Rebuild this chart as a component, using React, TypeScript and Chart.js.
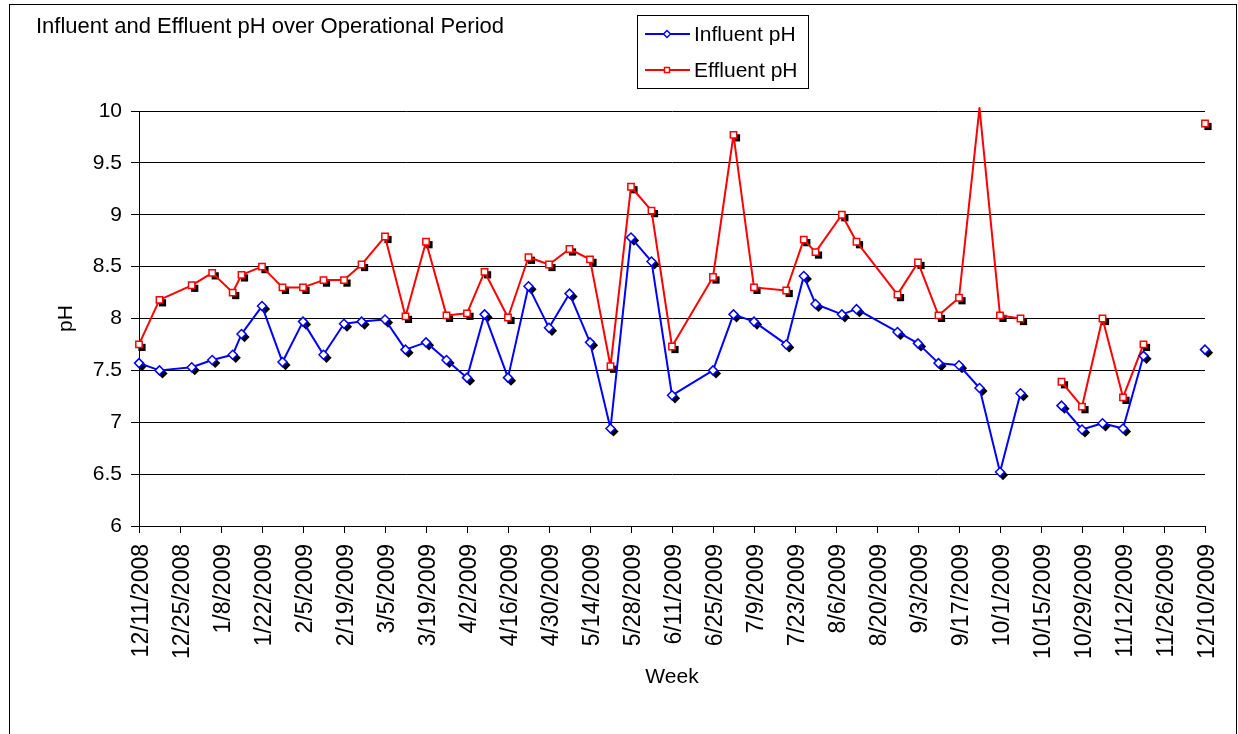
import React, { useEffect, useRef } from 'react';
import { Chart, registerables } from 'chart.js';

Chart.register(...registerables);

const chartTitle = 'Influent and Effluent pH over Operational Period';
const xAxisTitle = 'Week';
const yAxisTitle = 'pH';
const seriesNames = ['Influent pH', 'Effluent pH'];
const seriesColors = ['#0000FF', '#FF0000'];
const seriesMarkers = ['rectRot', 'rect'];

const axisStartDate = '12/11/2008';
const tickLabels = [
  '12/11/2008', '12/25/2008', '1/8/2009', '1/22/2009', '2/5/2009', '2/19/2009', '3/5/2009',
  '3/19/2009', '4/2/2009', '4/16/2009', '4/30/2009', '5/14/2009', '5/28/2009', '6/11/2009',
  '6/25/2009', '7/9/2009', '7/23/2009', '8/6/2009', '8/20/2009', '9/3/2009', '9/17/2009',
  '10/1/2009', '10/15/2009', '10/29/2009', '11/12/2009', '11/26/2009', '12/10/2009',
];

const sampleDates = [
  '12/11/2008', '12/18/2008', '12/29/2008', '1/5/2009', '1/12/2009', '1/15/2009', '1/22/2009',
  '1/29/2009', '2/5/2009', '2/12/2009', '2/19/2009', '2/25/2009', '3/5/2009', '3/12/2009',
  '3/19/2009', '3/26/2009', '4/2/2009', '4/8/2009', '4/16/2009', '4/23/2009', '4/30/2009',
  '5/7/2009', '5/14/2009', '5/21/2009', '5/28/2009', '6/4/2009', '6/11/2009', '6/25/2009',
  '7/2/2009', '7/9/2009', '7/20/2009', '7/26/2009', '7/30/2009', '8/8/2009', '8/13/2009',
  '8/27/2009', '9/3/2009', '9/10/2009', '9/17/2009', '9/24/2009', '10/1/2009', '10/8/2009',
  '10/15/2009', '10/22/2009', '10/29/2009', '11/5/2009', '11/12/2009', '11/19/2009',
  '11/26/2009', '12/3/2009', '12/10/2009',
];

const influentPH = [
  7.57, 7.50, 7.53, 7.60, 7.65, 7.85, 8.12,
  7.58, 7.97, 7.65, 7.95, 7.97, 7.99, 7.70,
  7.77, 7.60, 7.43, 8.04, 7.43, 8.31, 7.91,
  8.24, 7.77, 6.94, 8.78, 8.55, 7.26, 7.50,
  8.04, 7.97, 7.75, 8.41, 8.14, 8.04, 8.09,
  7.87, 7.76, 7.57, 7.55, 7.33, 6.52, 7.28,
  null, 7.16, 6.93, 6.99, 6.94, 7.64,
  null, null, 7.70,
];

const effluentPH = [
  7.75, 8.18, 8.32, 8.44, 8.25, 8.42, 8.50,
  8.30, 8.30, 8.37, 8.37, 8.52, 8.79, 8.02,
  8.74, 8.03, 8.05, 8.45, 8.01, 8.59, 8.52,
  8.67, 8.57, 7.54, 9.27, 9.04, 7.73, 8.40,
  9.77, 8.30, 8.27, 8.76, 8.64, 9.00, 8.74,
  8.23, 8.54, 8.03, 8.20, 10.03, 8.03, 8.00,
  null, 7.39, 7.15, 8.00, 7.24, 7.75,
  null, null, 9.88,
];

const Y_MIN = 6;
const Y_MAX = 10;
const Y_STEP = 0.5;

const FONT = '"Liberation Sans", Arial, Helvetica, sans-serif';

function toUTC(s: string): number {
  const [m, d, y] = s.split('/').map(Number);
  return Date.UTC(y, m - 1, d);
}
const startMs = toUTC(axisStartDate);
function dayIndex(s: string): number {
  return Math.round((toUTC(s) - startMs) / 86400000);
}

const tickDays = tickLabels.map(dayIndex);

function shapePath(ctx: CanvasRenderingContext2D, style: string, x: number, y: number, r: number) {
  ctx.beginPath();
  if (style === 'rectRot') {
    ctx.moveTo(x - r, y);
    ctx.lineTo(x, y - r);
    ctx.lineTo(x + r, y);
    ctx.lineTo(x, y + r);
    ctx.closePath();
  } else {
    const s = r * Math.SQRT1_2;
    ctx.rect(x - s, y - s, 2 * s, 2 * s);
  }
}

const decorPlugin = {
  id: 'decor',
  beforeDraw(chart: any) {
    const ctx = chart.ctx as CanvasRenderingContext2D;
    ctx.save();
    ctx.fillStyle = '#ffffff';
    ctx.fillRect(0, 0, chart.width, chart.height);
    ctx.strokeStyle = '#000000';
    ctx.lineWidth = 1;
    ctx.strokeRect(9.5, 4.5, chart.width - 11, chart.height + 20);
    ctx.fillStyle = '#000000';
    ctx.font = `22px ${FONT}`;
    ctx.textAlign = 'left';
    ctx.textBaseline = 'middle';
    ctx.fillText(chartTitle, 36, 27);
    ctx.restore();
  },
  beforeDatasetsDraw(chart: any) {
    const ctx = chart.ctx as CanvasRenderingContext2D;
    const area = chart.chartArea;
    ctx.save();
    ctx.beginPath();
    ctx.rect(area.left - 10, area.top - 10, area.right - area.left + 20, area.bottom - area.top + 20);
    ctx.clip();
    ctx.fillStyle = '#000000';
    chart.data.datasets.forEach((ds: any, i: number) => {
      const meta = chart.getDatasetMeta(i);
      meta.data.forEach((el: any) => {
        if (el.skip || !el.options || !el.options.radius) return;
        shapePath(ctx, seriesMarkers[i], el.x + 3, el.y + 3, el.options.radius + 0.6);
        ctx.fill();
      });
    });
    ctx.restore();
  },
  afterDraw(chart: any) {
    const ctx = chart.ctx as CanvasRenderingContext2D;
    ctx.save();
    ctx.fillStyle = '#ffffff';
    ctx.fillRect(638, 16, 170, 72);
    ctx.strokeStyle = '#000000';
    ctx.lineWidth = 1;
    ctx.strokeRect(637.5, 15.5, 171, 73);
    chart.data.datasets.forEach((ds: any, i: number) => {
      const y = 34 + i * 36;
      ctx.strokeStyle = seriesColors[i];
      ctx.lineWidth = 2;
      ctx.beginPath();
      ctx.moveTo(645, y);
      ctx.lineTo(690, y);
      ctx.stroke();
      ctx.fillStyle = '#ffffff';
      ctx.lineWidth = 1.5;
      shapePath(ctx, seriesMarkers[i], 667, y, 3.5);
      ctx.fill();
      ctx.stroke();
      ctx.fillStyle = '#000000';
      ctx.font = `21px ${FONT}`;
      ctx.textAlign = 'left';
      ctx.textBaseline = 'middle';
      ctx.fillText(ds.label, 694, y + 1);
    });
    ctx.restore();
  },
};

function buildPoints(values: (number | null)[]) {
  return sampleDates.map((d, i) => ({ x: dayIndex(d), y: values[i] }));
}

export default function App() {
  const ref = useRef<HTMLCanvasElement>(null);

  useEffect(() => {
    if (!ref.current) return;
    const seriesValues = [influentPH, effluentPH];
    const chart = new Chart(ref.current, {
      type: 'line',
      data: {
        datasets: seriesValues.map((vals, i) => ({
          label: seriesNames[i],
          data: buildPoints(vals),
          borderColor: seriesColors[i],
          backgroundColor: '#ffffff',
          borderWidth: 2,
          borderJoinStyle: 'round',
          tension: 0,
          spanGaps: false,
          pointStyle: seriesMarkers[i],
          pointRadius: (c: any) => (c.parsed && c.parsed.y > Y_MAX ? 0 : 4.5),
          pointBorderWidth: 1.5,
          pointBorderColor: seriesColors[i],
          pointBackgroundColor: '#ffffff',
          clip: { left: 10, top: 10, right: 10, bottom: 10 },
        })) as any,
      },
      options: {
        animation: false,
        responsive: false,
        devicePixelRatio: 1,
        events: [],
        layout: { padding: { left: 9, top: 111, right: 33, bottom: 0 } },
        plugins: {
          legend: { display: false },
          title: { display: false },
          tooltip: { enabled: false },
        },
        scales: {
          x: {
            type: 'linear',
            min: tickDays[0],
            max: tickDays[tickDays.length - 1],
            afterBuildTicks: (scale: any) => {
              scale.ticks = tickDays.map((v) => ({ value: v }));
            },
            afterFit: (scale: any) => {
              scale.height = 208;
              scale.paddingLeft = 0;
              scale.paddingRight = 0;
            },
            ticks: {
              autoSkip: false,
              minRotation: 90,
              maxRotation: 90,
              padding: 11,
              labelOffset: 3,
              color: '#000000',
              font: { family: FONT, size: 23 },
              callback: (_v: any, idx: number) => tickLabels[idx],
            },
            grid: {
              drawOnChartArea: false,
              drawTicks: true,
              tickLength: 7,
              color: '#000000',
              lineWidth: 1,
            },
            border: { display: true, color: '#000000', width: 1 },
            title: {
              display: true,
              text: xAxisTitle,
              color: '#000000',
              font: { family: FONT, size: 21 },
              padding: { top: 0, bottom: 44 },
            },
          },
          y: {
            type: 'linear',
            min: Y_MIN,
            max: Y_MAX,
            afterFit: (scale: any) => {
              scale.width = 130;
            },
            ticks: {
              stepSize: Y_STEP,
              padding: 9,
              color: '#000000',
              font: { family: FONT, size: 21 },
              callback: (v: any) => String(v),
            },
            grid: {
              drawOnChartArea: true,
              drawTicks: true,
              tickLength: 8,
              color: '#000000',
              lineWidth: 1,
            },
            border: { display: true, color: '#000000', width: 1 },
            title: {
              display: true,
              text: yAxisTitle,
              color: '#000000',
              font: { family: FONT, size: 21 },
              padding: { top: 45, bottom: 0 },
            },
          },
        },
      },
      plugins: [decorPlugin],
    } as any);
    return () => chart.destroy();
  }, []);

  return (
    <div style={{ position: 'fixed', left: 0, top: 0, width: 1238, height: 734, background: '#ffffff' }}>
      <canvas ref={ref} width={1238} height={734} style={{ display: 'block', width: 1238, height: 734 }} />
    </div>
  );
}
